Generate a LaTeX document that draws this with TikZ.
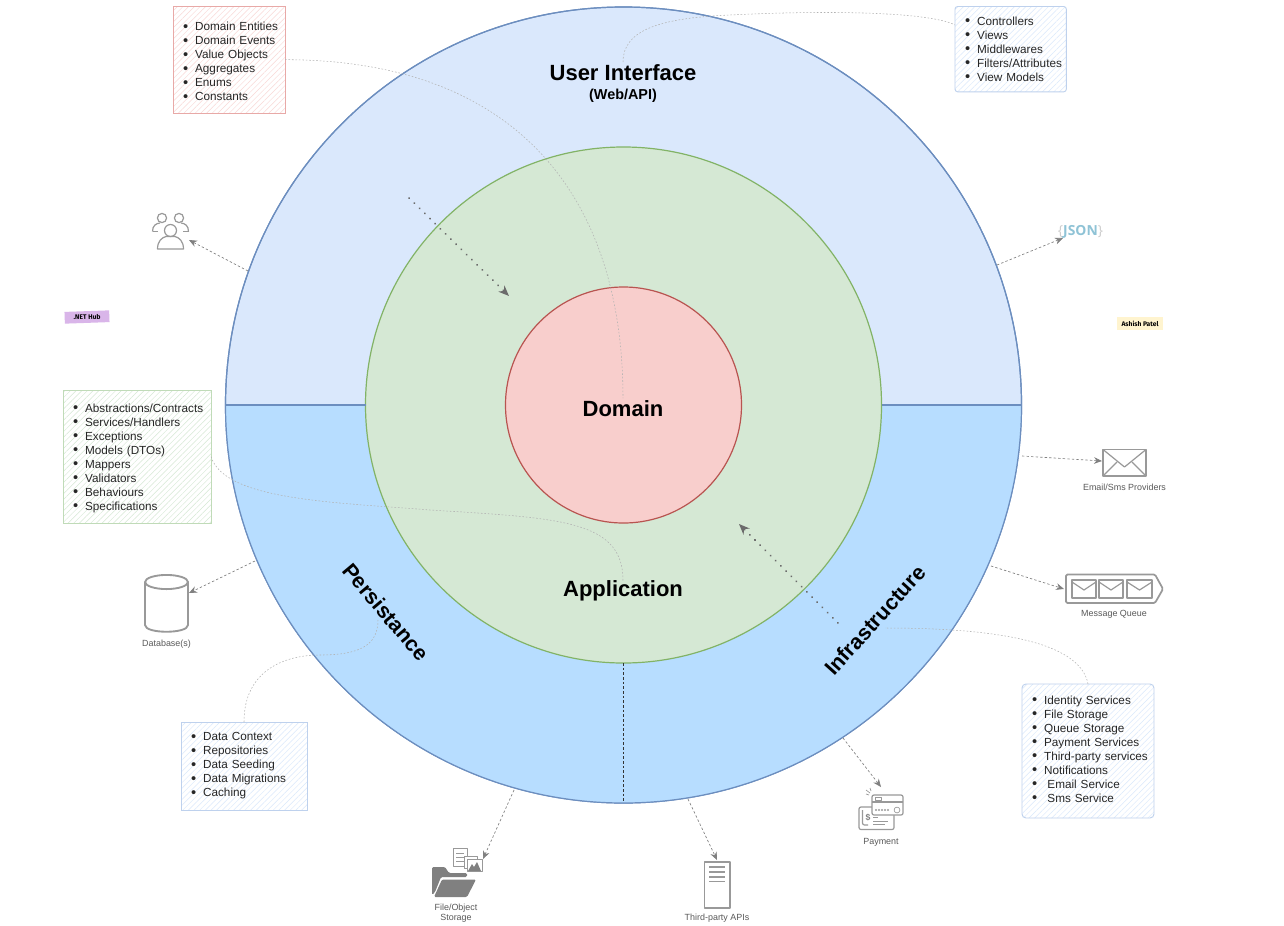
\documentclass[tikz,border=0pt]{standalone}
\usepackage{fontspec}
\setmainfont{Liberation Sans}
\newfontfamily\jsonfont{Open Sans}
\newfontfamily\tagfont{Fira Sans}
\usetikzlibrary{arrows.meta,patterns.meta}
\newcommand{\itm}[1]{\mbox{\makebox[9pt][l]{\raisebox{-0.5pt}{\fontsize{11}{10}\selectfont\textbullet}}#1}}
\definecolor{uiBlue}{HTML}{DAE8FC}
\definecolor{lowBlue}{HTML}{B7DDFF}
\definecolor{ringBlue}{HTML}{6C8EBF}
\definecolor{appGreen}{HTML}{D5E8D4}
\definecolor{ringGreen}{HTML}{82B366}
\definecolor{domRed}{HTML}{F8CECC}
\definecolor{ringRed}{HTML}{B85450}
\definecolor{icon}{HTML}{999999}
\definecolor{netPurple}{HTML}{D9B5E9}
\definecolor{ashYellow}{HTML}{FFF4CF}
\definecolor{jsonBlue}{HTML}{8FC3D6}
\definecolor{redEdge}{HTML}{E8A9A7}
\tikzset{
  ring/.style={circle,draw,line width=0.9pt,inner sep=0pt,outer sep=0pt},
  listbox/.style={anchor=north west,align=left,inner xsep=7.6pt,inner ysep=0pt,outer sep=0pt,
     font=\fontsize{8.8}{10.5}\selectfont,text=black!85,line width=0.7pt},
  redbox/.style={listbox,draw=redEdge,pattern={Lines[angle=45,distance=3pt,line width=.35pt]},pattern color=domRed!80},
  bluebox/.style={listbox,draw=uiBlue!75!ringBlue,pattern={Lines[angle=45,distance=3pt,line width=.35pt]},pattern color=uiBlue},
  greenbox/.style={listbox,draw=appGreen!75!ringGreen,pattern={Lines[angle=45,distance=3pt,line width=.35pt]},pattern color=appGreen},
  layer/.style={font=\bfseries\fontsize{16.5}{18}\selectfont,text=black,inner sep=0pt},
  slanted/.style={font=\bfseries\fontsize{16}{18}\selectfont,text=black,inner sep=0pt},
  caption/.style={font=\fontsize{6.7}{7.6}\selectfont,text=black!65,align=center,inner sep=0pt},
  faint/.style={draw=black!30,line width=0.4pt,dash pattern=on 1.2pt off 1.4pt},
  depend/.style={draw=black!50,line width=0.5pt,dash pattern=on 1.8pt off 1.6pt,-{Stealth[length=6pt,width=5pt]}},
  flow/.style={draw=black!58,line width=1.5pt,line cap=round,dash pattern=on 0.1pt off 5.4pt,-{Stealth[length=8pt,width=6.5pt]}},
  ico/.style={draw=icon,line width=1.3pt,line join=round},
  icothin/.style={draw=icon,line width=0.9pt,line join=round},
}
\begin{document}
\begin{tikzpicture}[x=0.75pt,y=-0.75pt]
\useasboundingbox (0,0) rectangle (1284,925);
\fill[white] (0,0) rectangle (1284,925);

% ---- rings
\node[ring,draw=ringBlue,fill=uiBlue,minimum size=597pt] (outer) at (623.5,405) {};
\begin{scope}
  \clip (0,405) rectangle (1284,925);
  \fill[lowBlue] (623.5,405) circle[radius=298.5pt];
\end{scope}
\draw[ringBlue,line width=0.9pt] (623.5,405) circle[radius=298.5pt];
\node[ring,draw=ringGreen,fill=appGreen,minimum size=387pt] (middle) at (623.5,405) {};
\node[ring,draw=ringRed,fill=domRed,minimum size=177pt] (inner) at (623.5,405) {};
\draw[ringBlue,line width=0.9pt] (outer.west) -- (middle.west);
\draw[ringBlue,line width=0.9pt] (middle.east) -- (outer.east);
\draw[black!80,line width=0.6pt,dash pattern=on 2pt off 1.5pt] (middle.south) -- (outer.south);

% ---- layer labels
\node[layer] (uiLabel) at (623,73) {User Interface};
\node[layer,font=\bfseries\fontsize{10.8}{12}\selectfont] (webLabel) at (623,96) {(Web/API)};
\node[layer] (domLabel) at (623,409) {Domain};
\node[layer] (appLabel) at (623,591) {Application};
\node[slanted,rotate=-50] (perLabel) at (386,612) {Persistance};
\node[slanted,rotate=48] (infLabel) at (875,620) {Infrastructure};

% ---- lists
\node[redbox,minimum width=84pt,minimum height=80.5pt,text width=68.8pt] (domList) at (173,6) {\rule{0pt}{9.3pt}\itm{Domain Entities}\\\itm{Domain Events}\\\itm{Value Objects}\\\itm{Aggregates}\\\itm{Enums}\\\itm{Constants}};
\node[bluebox,rounded corners=2pt,minimum width=83.5pt,minimum height=64pt,text width=68.3pt] (uiList) at (955,6.5) {\itm{Controllers}\\\itm{Views}\\\itm{Middlewares}\\\itm{Filters/Attributes}\\\itm{View Models}};
\node[greenbox,minimum width=111pt,minimum height=100pt,text width=95.8pt] (appList) at (63,390) {\rule{0pt}{8.5pt}\itm{Abstractions/Contracts}\\\itm{Services/Handlers}\\\itm{Exceptions}\\\itm{Models (DTOs)}\\\itm{Mappers}\\\itm{Validators}\\\itm{Behaviours}\\\itm{Specifications}};
\node[bluebox,minimum width=94.5pt,minimum height=66pt,text width=79.3pt] (perList) at (181,722) {\itm{Data Context}\\\itm{Repositories}\\\itm{Data Seeding}\\\itm{Data Migrations}\\\itm{Caching}};
\node[bluebox,rounded corners=3pt,minimum width=99pt,minimum height=100.5pt,text width=83.8pt] (infList) at (1022,684) {\itm{Identity Services}\\\itm{File Storage}\\\itm{Queue Storage}\\\itm{Payment Services}\\\itm{Third-party services}\\\itm{Notifications}\\\itm{\hspace{2.5pt}Email Service}\\\itm{\hspace{2.5pt}Sms Service}\rule[-3pt]{0pt}{0pt}};

% ---- faint links from lists to layers
\coordinate (domEnd) at (623,398);
\path[faint] (domList.east) .. controls (520,60) and (623,200) .. (domEnd);
\coordinate (uiEnd) at (623,62);
\coordinate (uiIn) at (955,25);
\path[faint] (uiEnd) .. controls (623,30) and (660,18) .. (730,15) .. controls (830,10) and (930,12) .. (uiIn);
\path[faint] (appList.east) .. controls (225,500) and (330,502) .. (430,510) .. controls (560,518) and (623,520) .. (appLabel.north);
\coordinate (perEnd) at (378,620);
\path[faint] (perList.north) .. controls (244,670) and (285,655) .. (320,655) .. controls (360,655) and (378,645) .. (perEnd);
\coordinate (infEnd) at (885,628);
\path[faint] (infList.north) .. controls (1080,640) and (990,628) .. (infEnd);

% ---- dependency flow arrows
\coordinate (flowA) at (409,198); \coordinate (flowAEnd) at (509,296);
\coordinate (flowB) at (838,623); \coordinate (flowBEnd) at (739,524);
\draw[flow] (flowA) -- (flowAEnd);
\draw[flow] (flowB) -- (flowBEnd);

% ---- users icon
\coordinate (usersIco) at (189,240); \coordinate (usersFrom) at (248,271);
\draw[depend] (usersFrom) -- (usersIco);
\draw[icothin] (162,218) circle[radius=3.45pt];
\draw[icothin] (179,218) circle[radius=3.45pt];
\draw[icothin] (152.5,231.5) .. controls (152.5,225.5) and (156,223.5) .. (160,223);
\draw[icothin] (152.5,231.5) -- (158,231.5);
\draw[icothin] (188.5,231.5) .. controls (188.5,225.5) and (185,223.5) .. (181,223);
\draw[icothin] (188.5,231.5) -- (183,231.5);
\draw[icothin,fill=white] (170.5,230.5) circle[radius=4.5pt];
\draw[icothin] (157.5,249) .. controls (157.5,241) and (162,237.5) .. (166,236.5) -- (175,236.5) .. controls (179,237.5) and (183.5,241) .. (183.5,249) -- cycle;

% ---- JSON
\coordinate (jsonIco) at (1063,238); \coordinate (jsonFrom) at (997,265);
\draw[depend] (jsonFrom) -- (jsonIco);
\node[inner sep=0pt,font=\jsonfont\fontsize{10.4}{12}\selectfont] (jsonLabel) at (1080.5,232) {\textcolor{black!20}{\{}\textcolor{jsonBlue}{\textbf{JSON}}\textcolor{black!20}{\}}};

% ---- tags
\node[rotate=2,fill=netPurple,inner sep=0pt,minimum width=33.5pt,minimum height=8.8pt,font=\tagfont\bfseries\fontsize{5}{6}\selectfont] (netTag) at (87,317) {.NET Hub};
\node[fill=ashYellow,inner sep=0pt,minimum width=34pt,minimum height=10pt,font=\tagfont\bfseries\fontsize{5}{6}\selectfont] (ashTag) at (1140,323.5) {Ashish Patel};

% ---- email icon
\coordinate (mailIco) at (1102,461); \coordinate (mailFrom) at (1022,456);
\draw[depend] (mailFrom) -- (mailIco);
\draw[ico] (1103,449.5) rectangle (1146,476);
\draw[icothin] (1103,449.5) -- (1124.5,467) -- (1146,449.5);
\draw[icothin] (1103,476) -- (1117,462);
\draw[icothin] (1146,476) -- (1132,462);
\node[caption] (mailCap) at (1124.5,487) {Email/Sms Providers};

% ---- message queue icon
\coordinate (mqIco) at (1064,589); \coordinate (mqFrom) at (991,566);
\draw[depend] (mqFrom) -- (mqIco);
\draw[ico,rounded corners=1pt] (1066,574.5) -- (1155,574.5) -- (1163,589) -- (1155,603) -- (1066,603) -- cycle;
\foreach \xa/\xb/\xm in {1072/1096/1084,1099/1123/1111,1127/1152/1139.5}{
  \draw[ico] (\xa,580) rectangle (\xb,598);
  \draw[icothin] (\xa,582) -- (\xm,590) -- (\xb,582);
}
\node[caption] (mqCap) at (1114,614) {Message Queue};

% ---- database icon
\coordinate (dbIco) at (189,593); \coordinate (dbFrom) at (255,561);
\draw[depend] (dbFrom) -- (dbIco);
\draw[ico,line width=1.4pt] (145,582) -- (145,625) .. controls (145,634) and (188,634) .. (188,625) -- (188,582);
\draw[ico,line width=1.4pt] (166.5,582) ellipse[x radius=16.1pt,y radius=5.3pt];
\node[caption] (dbCap) at (166.5,644) {Database(s)};

% ---- file / object storage icon
\coordinate (fileIco) at (483,859); \coordinate (fileFrom) at (514,790);
\draw[depend] (fileFrom) -- (fileIco);
\fill[black!50,rounded corners=1pt] (432,867) -- (445,867) -- (449,873) -- (467,873) -- (467,877) -- (441,877) -- (435,892) -- (432,895) -- cycle;
\fill[black!50,rounded corners=1pt] (442,879.5) -- (476,879.5) -- (467,897) -- (434,897) -- cycle;
\draw[icothin,line width=0.5pt] (453,848.5) rectangle (467,866);
\foreach \yy in {853,857,861}{ \draw[icothin,line width=0.5pt] (456,\yy) -- (464,\yy); }
\draw[icothin,line width=0.5pt,fill=white] (464,856) rectangle (477,868);
\draw[icothin,line width=0.5pt,fill=white] (467,859) rectangle (482,871.5);
\fill[black!50] (468,871) -- (472,864) -- (474,867) -- (477,862) -- (481,871) -- cycle;
\node[caption] (fileCap) at (456,913.5) {File/Object\\Storage};

% ---- third-party APIs icon
\coordinate (apiIco) at (717,860); \coordinate (apiFrom) at (688,799);
\draw[depend] (apiFrom) -- (apiIco);
\draw[ico,line width=1.3pt] (704.5,862) rectangle (730,908);
\foreach \yy in {867,872,877,881.5}{ \draw[icothin] (709,\yy) -- (725,\yy); }
\node[caption] (apiCap) at (717,918) {Third-party APIs};

% ---- payment icon
\coordinate (payIco) at (881,787); \coordinate (payFrom) at (843,738);
\draw[depend] (payFrom) -- (payIco);
\draw[icothin,rounded corners=1.5pt] (859,807) rectangle (894,829.5);
\draw[icothin,rounded corners=1.5pt] (862.5,810) -- (862.5,825) -- (868,825);
\draw[icothin,rounded corners=1.5pt,fill=white] (872,795) rectangle (903,815);
\draw[icothin] (872,802) -- (903,802);
\draw[icothin,line width=0.5pt] (875,797.5) rectangle (881,800);
\foreach \xx in {876,879,882,885,888}{ \fill[icon] (\xx,810) circle[radius=0.8pt]; }
\draw[icothin,line width=0.5pt] (897,810) circle[radius=2.2pt];
\node[inner sep=0pt,text=black!50,font=\fontsize{6.5}{7}\selectfont\bfseries] (dollar) at (868,818) {\$};
\draw[icothin,line width=0.5pt] (873,817) -- (878,817) (873,821) -- (888,821) (873,824) -- (885,824);
\draw[icothin,line width=0.5pt] (866,790) -- (870,793) (870,788) -- (871,791) (866,794) -- (869,795);
\node[caption] (payCap) at (881,842) {Payment};
\end{tikzpicture}
\end{document}
